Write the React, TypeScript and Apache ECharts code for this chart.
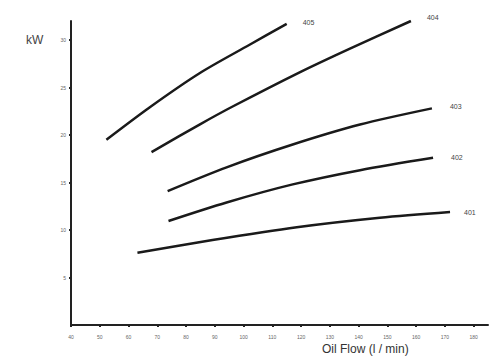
import React, { useEffect, useRef } from "react";
import * as echarts from "echarts";

const xTicks = [40, 50, 60, 70, 80, 90, 100, 110, 120, 130, 140, 150, 160, 170, 180];
const yTicks = [5, 10, 15, 20, 25, 30];

const s401: [number, number][] = [[63.1, 7.6], [89.2, 8.95], [118.5, 10.3], [147.4, 11.3], [171.8, 11.9]];
const s402: [number, number][] = [[73.9, 10.95], [94.1, 12.9], [117.1, 14.8], [140.5, 16.3], [165.9, 17.6]];
const s403: [number, number][] = [[73.6, 14.1], [94.1, 16.6], [117.1, 19.0], [140.5, 21.1], [165.5, 22.8]];
const s404: [number, number][] = [[68.0, 18.2], [84.7, 21.1], [96.2, 23.0], [119.5, 26.6], [137.0, 29.1], [158.2, 32.0]];
const s405: [number, number][] = [[52.3, 19.5], [67.3, 22.9], [84.7, 26.5], [102.1, 29.5], [115.0, 31.7]];

const seriesList: { name: string; data: [number, number][]; off: [number, number] }[] = [
  { name: "401", data: s401, off: [6, 1] },
  { name: "402", data: s402, off: [10, 0] },
  { name: "403", data: s403, off: [10, -2] },
  { name: "404", data: s404, off: [8, -4] },
  { name: "405", data: s405, off: [8, -1] },
];

export default function App() {
  const ref = useRef<HTMLDivElement>(null);
  useEffect(() => {
    if (!ref.current) return;
    const chart = echarts.init(ref.current, null, { renderer: "svg" });
    chart.setOption({
      animation: false,
      backgroundColor: "#ffffff",
      color: ["#1a1a1a"],
      grid: { left: 71, right: 7, top: 21, bottom: 36, containLabel: false },
      xAxis: {
        type: "value",
        min: 40,
        max: 185,
        interval: 10,
        axisLine: { show: true, lineStyle: { color: "#222", width: 2 } },
        axisTick: { show: true, length: 2, lineStyle: { color: "#222", width: 2 } },
        splitLine: { show: false },
        axisLabel: {
          color: "#666",
          fontSize: 5,
          margin: 9,
          fontFamily: "Liberation Sans",
          formatter: (v: number) => (xTicks.includes(v) ? String(v) : ""),
          showMaxLabel: false,
        },
      },
      yAxis: {
        type: "value",
        min: 0,
        max: 32,
        interval: 5,
        axisLine: { show: true, lineStyle: { color: "#222", width: 2 } },
        axisTick: { show: true, length: 2, lineStyle: { color: "#222", width: 2 } },
        splitLine: { show: false },
        axisLabel: {
          color: "#666",
          fontSize: 5,
          margin: 5,
          fontFamily: "Liberation Sans",
          formatter: (v: number) => (yTicks.includes(v) ? String(v) : ""),
          showMinLabel: false,
          showMaxLabel: false,
        },
      },
      graphic: [
        {
          type: "text",
          left: 26,
          top: 34,
          style: { text: "kW", fontSize: 12, fill: "#444", fontFamily: "Liberation Sans" },
        },
        {
          type: "text",
          left: 322,
          top: 343,
          style: { text: "Oil Flow (l / min)", fontSize: 12, fill: "#333", fontFamily: "Liberation Sans" },
        },
      ],
      series: seriesList.map((s) => ({
        type: "line",
        name: s.name,
        data: s.data,
        smooth: 0.3,
        showSymbol: false,
        symbol: "none",
        itemStyle: { color: "#1a1a1a" },
        lineStyle: { color: "#1a1a1a", width: 2.5 },
        endLabel: {
          show: true,
          formatter: s.name,
          color: "#444",
          fontSize: 7,
          fontFamily: "Liberation Sans",
          offset: s.off,
        },
      })),
    });
    return () => chart.dispose();
  }, []);
  return (
    <div
      ref={ref}
      style={{ position: "fixed", left: 0, top: 0, width: 495, height: 361 }}
    />
  );
}
